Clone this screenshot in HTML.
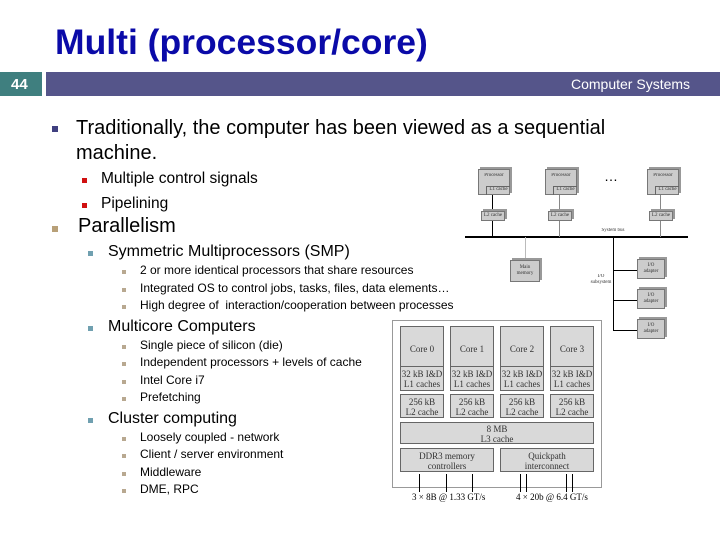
<!DOCTYPE html>
<html><head><meta charset="utf-8"><style>
body{margin:0;width:720px;height:540px;background:#fff;position:relative;overflow:hidden;font-family:"Liberation Sans",sans-serif}
div,span{position:absolute;box-sizing:border-box}
.t{white-space:nowrap;color:#000}
.b{width:6px;height:6px}
.s{font-family:"Liberation Serif",serif;font-size:5px;color:#333;text-align:center;line-height:6px;white-space:nowrap;overflow:hidden}
.box{background:#ccc;border:1px solid #777;box-shadow:2px -2px 0 #999}
.c{background:#d9d9d9;border:1px solid #666;font-family:"Liberation Serif",serif;font-size:9px;text-align:center;color:#333;line-height:10px}
</style></head><body>
<div class="t" style="left:55px;top:22px;font-size:35.5px;font-weight:bold;color:#0a0aa8">Multi (processor/core)</div>
<div style="left:0;top:72px;width:42px;height:24px;background:#3f7f7f"></div>
<div class="t" style="left:11px;top:76px;font-size:15px;font-weight:bold;color:#fff">44</div>
<div style="left:46px;top:72px;width:674px;height:24px;background:#55558a"></div>
<div class="t" style="left:571px;top:76px;font-size:14px;color:#fff">Computer Systems</div>

<div class="b" style="left:52px;top:126px;background:#404080"></div>
<div class="t" style="left:76px;top:116px;font-size:20px;line-height:25px">Traditionally, the computer has been viewed as a sequential<br>machine.</div>
<div class="b" style="left:82px;top:178px;width:5px;height:5px;background:#d01010"></div>
<div class="t" style="left:101px;top:170px;font-size:15.5px">Multiple control signals</div>
<div class="b" style="left:82px;top:203px;width:5px;height:5px;background:#d01010"></div>
<div class="t" style="left:101px;top:195px;font-size:15.5px">Pipelining</div>
<div class="b" style="left:52px;top:226px;background:#b8a078"></div>
<div class="t" style="left:78px;top:215px;font-size:20px">Parallelism</div>
<div class="b" style="left:88px;top:251px;width:5px;height:5px;background:#70a0b0"></div>
<div class="t" style="left:108px;top:243px;font-size:16px">Symmetric Multiprocessors (SMP)</div>
<div class="b" style="left:122px;top:270px;width:4px;height:4px;background:#b8a890"></div>
<div class="t" style="left:140px;top:263px;font-size:12px">2 or more identical processors that share resources</div>
<div class="b" style="left:122px;top:288px;width:4px;height:4px;background:#b8a890"></div>
<div class="t" style="left:140px;top:281px;font-size:12px">Integrated OS to control jobs, tasks, files, data elements…</div>
<div class="b" style="left:122px;top:305px;width:4px;height:4px;background:#b8a890"></div>
<div class="t" style="left:140px;top:298px;font-size:12px">High degree of &nbsp;interaction/cooperation between processes</div>
<div class="b" style="left:88px;top:326px;width:5px;height:5px;background:#70a0b0"></div>
<div class="t" style="left:108px;top:318px;font-size:16px">Multicore Computers</div>
<div class="b" style="left:122px;top:345px;width:4px;height:4px;background:#b8a890"></div>
<div class="t" style="left:140px;top:338px;font-size:12px">Single piece of silicon (die)</div>
<div class="b" style="left:122px;top:362px;width:4px;height:4px;background:#b8a890"></div>
<div class="t" style="left:140px;top:355px;font-size:12px">Independent processors + levels of cache</div>
<div class="b" style="left:122px;top:380px;width:4px;height:4px;background:#b8a890"></div>
<div class="t" style="left:140px;top:373px;font-size:12px">Intel Core i7</div>
<div class="b" style="left:122px;top:397px;width:4px;height:4px;background:#b8a890"></div>
<div class="t" style="left:140px;top:390px;font-size:12px">Prefetching</div>
<div class="b" style="left:88px;top:418px;width:5px;height:5px;background:#70a0b0"></div>
<div class="t" style="left:108px;top:410px;font-size:16px">Cluster computing</div>
<div class="b" style="left:122px;top:437px;width:4px;height:4px;background:#b8a890"></div>
<div class="t" style="left:140px;top:430px;font-size:12px">Loosely coupled - network</div>
<div class="b" style="left:122px;top:454px;width:4px;height:4px;background:#b8a890"></div>
<div class="t" style="left:140px;top:447px;font-size:12px">Client / server environment</div>
<div class="b" style="left:122px;top:472px;width:4px;height:4px;background:#b8a890"></div>
<div class="t" style="left:140px;top:465px;font-size:12px">Middleware</div>
<div class="b" style="left:122px;top:489px;width:4px;height:4px;background:#b8a890"></div>
<div class="t" style="left:140px;top:482px;font-size:12px">DME, RPC</div>

<!-- SMP diagram -->
<div style="left:465px;top:236px;width:223px;height:2px;background:#000"></div>
<div style="left:492px;top:195px;width:1px;height:42px;background:#000"></div>
<div style="left:559px;top:195px;width:1px;height:42px;background:#888"></div>
<div style="left:660px;top:195px;width:1px;height:42px;background:#888"></div>
<div style="left:525px;top:237px;width:1px;height:25px;background:#bbb"></div>
<div style="left:613px;top:237px;width:1px;height:93px;background:#000"></div>
<div style="left:613px;top:270px;width:24px;height:1px;background:#000"></div>
<div style="left:613px;top:300px;width:24px;height:1px;background:#000"></div>
<div style="left:613px;top:330px;width:24px;height:1px;background:#000"></div>
<div class="box" style="left:478px;top:169px;width:32px;height:26px"></div>
<div class="s" style="left:478px;top:173px;width:32px">Processor</div>
<div class="s" style="left:486px;top:186px;width:24px;height:9px;border-left:1px solid #666;border-top:1px solid #666">L1 cache</div>
<div class="box" style="left:545px;top:169px;width:32px;height:26px"></div>
<div class="s" style="left:545px;top:173px;width:32px">Processor</div>
<div class="s" style="left:553px;top:186px;width:24px;height:9px;border-left:1px solid #666;border-top:1px solid #666">L1 cache</div>
<div class="box" style="left:647px;top:169px;width:32px;height:26px"></div>
<div class="s" style="left:647px;top:173px;width:32px">Processor</div>
<div class="s" style="left:655px;top:186px;width:24px;height:9px;border-left:1px solid #666;border-top:1px solid #666">L1 cache</div>
<div class="t" style="left:604px;top:168px;font-size:14px">…</div>
<div class="box s" style="left:481px;top:211px;width:24px;height:10px;line-height:8px">L2 cache</div>
<div class="box s" style="left:548px;top:211px;width:24px;height:10px;line-height:8px">L2 cache</div>
<div class="box s" style="left:649px;top:211px;width:24px;height:10px;line-height:8px">L2 cache</div>
<div class="s" style="left:598px;top:228px;width:30px">System bus</div>
<div class="box s" style="left:510px;top:260px;width:30px;height:22px;padding-top:4px">Main<br>memory</div>
<div class="s" style="left:588px;top:274px;width:26px">I/O<br>subsystem</div>
<div class="box s" style="left:637px;top:259px;width:28px;height:20px;padding-top:3px">I/O<br>adapter</div>
<div class="box s" style="left:637px;top:289px;width:28px;height:20px;padding-top:3px">I/O<br>adapter</div>
<div class="box s" style="left:637px;top:319px;width:28px;height:20px;padding-top:3px">I/O<br>adapter</div>

<!-- Core i7 diagram -->
<div style="left:392px;top:320px;width:210px;height:168px;border:1px solid #999;background:#fff"></div>
<div class="c" style="left:400px;top:326px;width:44px;height:65px;padding-top:17px">Core 0</div>
<div class="c" style="left:450px;top:326px;width:44px;height:65px;padding-top:17px">Core 1</div>
<div class="c" style="left:500px;top:326px;width:44px;height:65px;padding-top:17px">Core 2</div>
<div class="c" style="left:550px;top:326px;width:44px;height:65px;padding-top:17px">Core 3</div>
<div class="c" style="left:400px;top:366px;width:44px;height:25px;padding-top:2px">32 kB I&amp;D<br>L1 caches</div>
<div class="c" style="left:450px;top:366px;width:44px;height:25px;padding-top:2px">32 kB I&amp;D<br>L1 caches</div>
<div class="c" style="left:500px;top:366px;width:44px;height:25px;padding-top:2px">32 kB I&amp;D<br>L1 caches</div>
<div class="c" style="left:550px;top:366px;width:44px;height:25px;padding-top:2px">32 kB I&amp;D<br>L1 caches</div>
<div class="c" style="left:400px;top:394px;width:44px;height:24px;padding-top:2px">256 kB<br>L2 cache</div>
<div class="c" style="left:450px;top:394px;width:44px;height:24px;padding-top:2px">256 kB<br>L2 cache</div>
<div class="c" style="left:500px;top:394px;width:44px;height:24px;padding-top:2px">256 kB<br>L2 cache</div>
<div class="c" style="left:550px;top:394px;width:44px;height:24px;padding-top:2px">256 kB<br>L2 cache</div>
<div class="c" style="left:400px;top:422px;width:194px;height:22px;padding-top:1px">8 MB<br>L3 cache</div>
<div class="c" style="left:400px;top:448px;width:94px;height:24px;padding-top:2px">DDR3 memory<br>controllers</div>
<div class="c" style="left:500px;top:448px;width:94px;height:24px;padding-top:2px">Quickpath<br>interconnect</div>
<div style="left:419px;top:474px;width:1px;height:18px;background:#000"></div>
<div style="left:446px;top:474px;width:1px;height:18px;background:#000"></div>
<div style="left:472px;top:474px;width:1px;height:18px;background:#000"></div>
<div style="left:520px;top:474px;width:1px;height:18px;background:#000"></div>
<div style="left:526px;top:474px;width:1px;height:18px;background:#000"></div>
<div style="left:566px;top:474px;width:1px;height:18px;background:#000"></div>
<div style="left:572px;top:474px;width:1px;height:18px;background:#000"></div>
<div class="t" style="left:412px;top:492px;font-family:'Liberation Serif',serif;font-size:9px">3 × 8B @ 1.33 GT/s</div>
<div class="t" style="left:516px;top:492px;font-family:'Liberation Serif',serif;font-size:9px">4 × 20b @ 6.4 GT/s</div>
</body></html>
